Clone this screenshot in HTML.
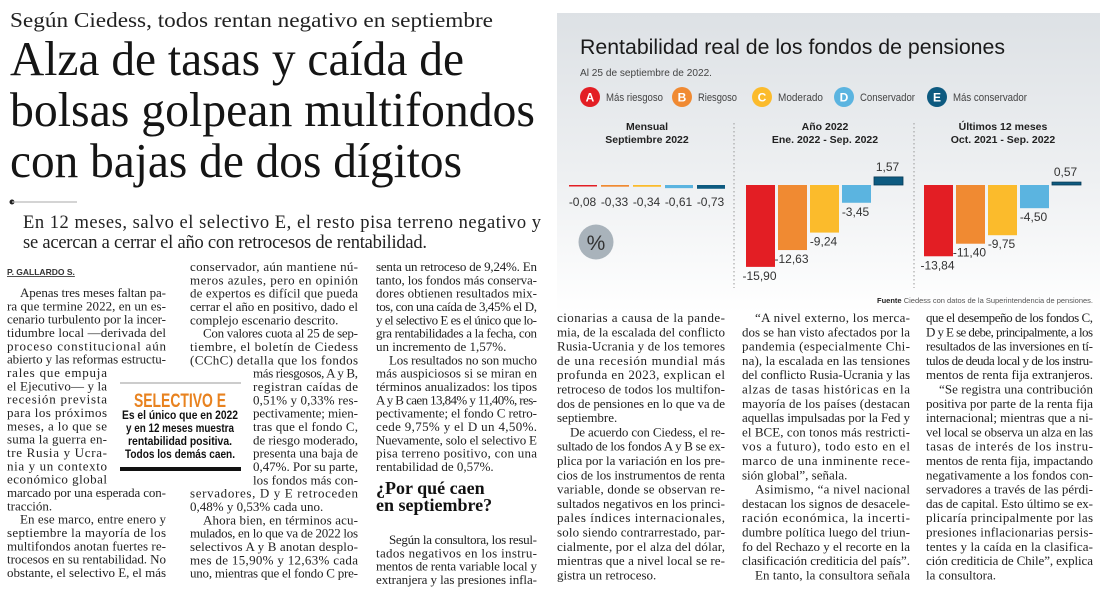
<!DOCTYPE html>
<html><head><meta charset="utf-8">
<style>
html,body{margin:0;padding:0;background:#fff;}
svg{display:block;}
.serif{font-family:"Liberation Serif",serif;}
.sans{font-family:"Liberation Sans",sans-serif;}
</style></head>
<body>
<svg id="page" width="1100" height="591" viewBox="0 0 1100 591" xmlns="http://www.w3.org/2000/svg">
<defs>
<linearGradient id="bg" x1="0" y1="0" x2="0" y2="1">
<stop offset="0" stop-color="#dde1e5"/><stop offset="0.55" stop-color="#eef0f2"/><stop offset="1" stop-color="#ffffff"/>
</linearGradient>
</defs>
<text class="serif" x="10" y="27" font-size="21" fill="#222" textLength="483" lengthAdjust="spacingAndGlyphs">Según Ciedess, todos rentan negativo en septiembre</text>
<text class="serif" x="10" y="75" font-size="49" fill="#151515" textLength="454" lengthAdjust="spacingAndGlyphs">Alza de tasas y caída de</text>
<text class="serif" x="10" y="126" font-size="49" fill="#151515" textLength="525" lengthAdjust="spacingAndGlyphs">bolsas golpean multifondos</text>
<text class="serif" x="10" y="177" font-size="49" fill="#151515" textLength="452" lengthAdjust="spacingAndGlyphs">con bajas de dos dígitos</text>
<circle cx="12" cy="202" r="2.5" fill="#222"/>
<line x1="12" y1="202" x2="77" y2="202" stroke="#bbb" stroke-width="1.2"/>
<text class="serif" x="23" y="228" font-size="18.5" fill="#222" textLength="518" lengthAdjust="spacing">En 12 meses, salvo el selectivo E, el resto pisa terreno negativo y</text>
<text class="serif" x="23" y="248" font-size="18.5" fill="#222" textLength="404" lengthAdjust="spacing">se acercan a cerrar el año con retrocesos de rentabilidad.</text>
<text class="sans" x="7" y="275" font-size="8.5" font-weight="bold" fill="#333" text-decoration="underline">P. GALLARDO S.</text>

<line x1="120" y1="383" x2="241" y2="383" stroke="#999" stroke-width="1"/>
<text class="sans" x="180" y="407" font-size="19" font-weight="bold" fill="#e8821f" text-anchor="middle" textLength="92" lengthAdjust="spacingAndGlyphs">SELECTIVO E</text>
<text class="sans" x="180" y="419" font-size="12" font-weight="bold" fill="#111" text-anchor="middle" textLength="116" lengthAdjust="spacingAndGlyphs">Es el único que en 2022</text>
<text class="sans" x="180" y="432" font-size="12" font-weight="bold" fill="#111" text-anchor="middle" textLength="108" lengthAdjust="spacingAndGlyphs">y en 12 meses muestra</text>
<text class="sans" x="180" y="445" font-size="12" font-weight="bold" fill="#111" text-anchor="middle" textLength="104" lengthAdjust="spacingAndGlyphs">rentabilidad positiva.</text>
<text class="sans" x="180" y="458" font-size="12" font-weight="bold" fill="#111" text-anchor="middle" textLength="110" lengthAdjust="spacingAndGlyphs">Todos los demás caen.</text>
<rect x="120" y="467" width="121" height="4" fill="#111"/>

<text class="serif" x="376" y="494" font-size="18" font-weight="bold" fill="#111">¿Por qué caen</text>
<text class="serif" x="376" y="511" font-size="18" font-weight="bold" fill="#111">en septiembre?</text>

<g id="body"></g>

<g id="chart">
<rect x="557" y="13" width="543" height="300" fill="url(#bg)"/>
<text class="sans" x="580" y="54" font-size="21" fill="#1a1a1a" textLength="425" lengthAdjust="spacingAndGlyphs">Rentabilidad real de los fondos de pensiones</text>
<text class="sans" x="580" y="76" font-size="10" fill="#444" textLength="132" lengthAdjust="spacingAndGlyphs">Al 25 de septiembre de 2022.</text>
<g id="legend"></g>
<line x1="734" y1="123" x2="734" y2="288" stroke="#999" stroke-width="1" stroke-dasharray="1.5,2.5"/>
<line x1="914" y1="123" x2="914" y2="288" stroke="#999" stroke-width="1" stroke-dasharray="1.5,2.5"/>
<g id="bars"></g>
<circle cx="596" cy="242" r="17.5" fill="#a9b3bb"/>
<text class="sans" x="596" y="250" font-size="21" fill="#333" text-anchor="middle">%</text>
<text class="sans" x="1093" y="303" font-size="7.5" fill="#555" text-anchor="end"><tspan font-weight="bold" fill="#222">Fuente</tspan>  Ciedess con datos de la Superintendencia de pensiones.</text>
</g>
</svg>
<script>
const NS="http://www.w3.org/2000/svg";
const funds=["A","B","C","D","E"];
const fundNames=["Más riesgoso","Riesgoso","Moderado","Conservador","Más conservador"];
const fundColors=["#e31e24","#f08a32","#fbbb2c","#5bb4e0","#0d5a80"];
const panelTitles=["Mensual","Año 2022","Últimos 12 meses"];
const panelSubtitles=["Septiembre 2022","Ene. 2022 - Sep. 2022","Oct. 2021 - Sep. 2022"];
const monthly=[-0.08,-0.33,-0.34,-0.61,-0.73];
const year2022=[-15.90,-12.63,-9.24,-3.45,1.57];
const last12=[-13.84,-11.40,-9.75,-4.50,0.57];
const series=[monthly,year2022,last12];

function mk(tag,attrs,parent,txt){const e=document.createElementNS(NS,tag);for(const k in attrs)e.setAttribute(k,attrs[k]);if(txt!==undefined)e.textContent=txt;parent.appendChild(e);return e;}
function fmt(v){return v.toFixed(2).replace(".",",");}

const lg=document.getElementById("legend");
const legCx=[590,682,762,844,937];
const legW=[57,39,45,55,74];
funds.forEach((f,i)=>{
  const c=mk("circle",{cx:legCx[i],cy:97,r:10,fill:fundColors[i]},lg);
  
  
  const t=mk("text",{x:legCx[i],y:101.5,"font-size":12,"font-weight":"bold",fill:"#fff","text-anchor":"middle","class":"sans"},lg,f);
  
  
  const l=mk("text",{x:legCx[i]+16,y:101,"font-size":11,fill:"#444","class":"sans",textLength:legW[i],lengthAdjust:"spacingAndGlyphs"},lg,fundNames[i]);
  
  
});

const bg=document.getElementById("bars");
const base=185, unit=5.15, barW=29, step=32;
const panelX0=[569,746,924];
const panelCx=[647,825,1003];
function yOf(v){return base - v*unit;}
series.forEach((vals,p)=>{
  const h1=mk("text",{x:panelCx[p],y:130,"font-size":10.5,"font-weight":"bold",fill:"#222","text-anchor":"middle","class":"sans"},bg,panelTitles[p]);
  
  
  const h2=mk("text",{x:panelCx[p],y:143,"font-size":10.5,"font-weight":"bold",fill:"#222","text-anchor":"middle","class":"sans"},bg,panelSubtitles[p]);
  
  
  vals.forEach((v,i)=>{
    const x=panelX0[p]+i*step;
    let y0=Math.min(yOf(v),base), h=Math.abs(yOf(v)-base);
    if(h<1.5){h=1.5;}
    const r=mk("rect",{x:x,y:y0,width:(p===0?28:barW),height:h,fill:fundColors[i]},bg);
    
    
    if(v>=0.5){r.setAttribute("stroke","#083a55");r.setAttribute("stroke-width","0.8");}
    let ly = v<0 ? Math.max(yOf(v)+13, base+21) : yOf(v)-6;
    const t=mk("text",{x:x+barW/2-1,y:ly,"font-size":12,fill:"#333","text-anchor":"middle","class":"sans"},bg,(v<0?"-":"")+fmt(Math.abs(v)));
    
    
  });
});

const col1=[">Apenas tres meses faltan pa-","ra que termine 2022, en un es-","cenario turbulento por la incer-","tidumbre local —derivada del","proceso constitucional aún","abierto y las reformas estructu-","#rales que empuja","#el Ejecutivo— y la","#recesión prevista","#para los próximos","#meses, a lo que se","#suma la guerra en-","#tre Rusia y Ucra-","#nia y un contexto","#económico global","marcado por una esperada con-","tracción.$",">En ese marco, entre enero y","septiembre la mayoría de los","multifondos anotan fuertes re-","trocesos en su rentabilidad. No","obstante, el selectivo E, el más"];
const col2=["conservador, aún mantiene nú-","meros azules, pero en opinión","de expertos es difícil que pueda","cerrar el año en positivo, dado el","complejo escenario descrito.$",">Con valores cuota al 25 de sep-","tiembre, el boletín de Ciedess","(CChC) detalla que los fondos","#más riesgosos, A y B,","#registran caídas de","#0,51% y 0,33% res-","#pectivamente; mien-","#tras que el fondo C,","#de riesgo moderado,","#presenta una baja de","#0,47%. Por su parte,","#los fondos más con-","servadores, D y E retroceden","0,48% y 0,53% cada uno.$",">Ahora bien, en términos acu-","mulados, en lo que va de 2022 los","selectivos A y B anotan desplo-","mes de 15,90% y 12,63% cada","uno, mientras que el fondo C pre-"];
const col3a=["senta un retroceso de 9,24%. En","tanto, los fondos más conserva-","dores obtienen resultados mix-","tos, con una caída de 3,45% el D,","y el selectivo E es el único que lo-","gra rentabilidades a la fecha, con","un incremento de 1,57%.$",">Los resultados no son mucho","más auspiciosos si se miran en","términos anualizados: los tipos","A y B caen 13,84% y 11,40%, res-","pectivamente; el fondo C retro-","cede 9,75% y el D un 4,50%.","Nuevamente, solo el selectivo E","pisa terreno positivo, con una","rentabilidad de 0,57%.$"];
const col3b=[">Según la consultora, los resul-","tados negativos en los instru-","mentos de renta variable local y","extranjera y las presiones infla-"];
const col4=["cionarias a causa de la pande-","mia, de la escalada del conflicto","Rusia-Ucrania y de los temores","de una recesión mundial más","profunda en 2023, explican el","retroceso de todos los multifon-","dos de pensiones en lo que va de","septiembre.$",">De acuerdo con Ciedess, el re-","sultado de los fondos A y B se ex-","plica por la variación en los pre-","cios de los instrumentos de renta","variable, donde se observan re-","sultados negativos en los princi-","pales índices internacionales,","solo siendo contrarrestado, par-","cialmente, por el alza del dólar,","mientras que a nivel local se re-","gistra un retroceso.$"];
const col5=[">“A nivel externo, los merca-","dos se han visto afectados por la","pandemia (especialmente Chi-","na), la escalada en las tensiones","del conflicto Rusia-Ucrania y las","alzas de tasas históricas en la","mayoría de los países (destacan","aquellas impulsadas por la Fed y","el BCE, con tonos más restricti-","vos a futuro), todo esto en el","marco de una inminente rece-","sión global”, señala.$",">Asimismo, “a nivel nacional","destacan los signos de desacele-","ración económica, la incerti-","dumbre política luego del triun-","fo del Rechazo y el recorte en la","clasificación crediticia del país”.",">En tanto, la consultora señala"];
const col6=["que el desempeño de los fondos C,","D y E se debe, principalmente, a los","resultados de las inversiones en tí-","tulos de deuda local y de los instru-","mentos de renta fija extranjeros.",">“Se registra una contribución","positiva por parte de la renta fija","internacional; mientras que a ni-","vel local se observa un alza en las","tasas de interés de los instru-","mentos de renta fija, impactando","negativamente a los fondos con-","servadores a través de las pérdi-","das de capital. Esto último se ex-","plicaría principalmente por las","presiones inflacionarias persis-","tentes y la caída en la clasifica-","ción crediticia de Chile”, explica","la consultora.$"];

const body=document.getElementById("body");
function renderCol(lines,x,w,y0,lh,narrowX,narrowW,name){
  const g=mk("g",{},body);
  
  
  lines.forEach((s,i)=>{
    let lx=x, lw=w, txt=s, last=false;
    if(txt[0]==="#"){txt=txt.slice(1); if(narrowX!==null){lx=narrowX;} lw=narrowW;}
    if(txt[0]===">"){txt=txt.slice(1); lx+=13; lw-=13;}
    if(txt.endsWith("$")){txt=txt.slice(0,-1); last=true;}
    const a={x:lx,y:y0+i*lh+4,"font-size":13,fill:"#222","class":"serif"};
    if(!last){a.textLength=lw;a.lengthAdjust="spacing";}
    const t=mk("text",a,g,txt);
    
    
  });
}
renderCol(col1,7,159,293,13.33,null,100,"column-1");
renderCol(col2,190,168,267,13.33,253,105,"column-2");
renderCol(col3a,376,161,267,13.33,null,161,"column-3-top");
renderCol(col3b,376,161,540,13.33,null,161,"column-3-bottom");
renderCol(col4,557,168,318,14.3,null,168,"column-4");
renderCol(col5,742,168,318,14.3,null,168,"column-5");
renderCol(col6,926,167,318,14.3,null,167,"column-6");
</script>
</body></html>
